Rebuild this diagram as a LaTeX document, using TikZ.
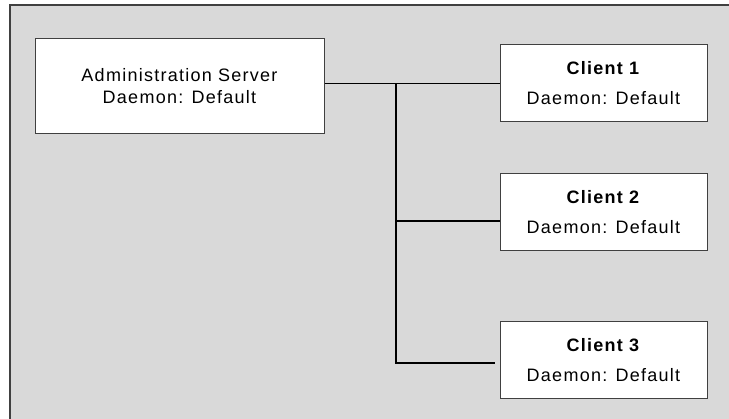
\documentclass[tikz,border=0pt]{standalone}
\usepackage{fontspec}
\setmainfont{Liberation Sans}[LetterSpace=7]
\usetikzlibrary{calc}
\definecolor{panel}{RGB}{217,217,217}
\definecolor{edge}{RGB}{64,64,64}

\begin{document}
\begin{tikzpicture}[x=1pt,y=-1pt,line width=1pt,
    box/.style={draw=edge,fill=white,inner sep=0pt,align=center},
    server/.style={box,minimum width=289pt,minimum height=95pt,font=\fontsize{18}{22}\selectfont},
    client/.style={box,minimum width=207pt,minimum height=77pt,font=\fontsize{18}{30}\selectfont},
    wire/.style={black,line width=1.3pt}]
                \useasboundingbox (0,0) rectangle (729,419);
                \fill[panel] (10,5) rectangle (729,419);
                \draw[edge,line width=1.3pt] (10,419)--(10,5)--(729,5);
                \node[server] (admin) at (179.5,86.5) {Administration Server\\Daemon: Default};
                \node[client] (c1) at (603.5,83.5) {\textbf{Client 1}\\Daemon: Default};
                \node[client] (c2) at (603.5,212) {\textbf{Client 2}\\Daemon: Default};
                \node[client] (c3) at (603.5,360.5) {\textbf{Client 3}\\Daemon: Default};
                \coordinate (trunk) at (396,83.5);
                \coordinate (c3end) at (495,363);
                \draw[wire] (admin.east |- c1.west)--(c1.west);
                \draw[wire] (trunk)--(trunk |- c3end)--(c3end);
                \draw[wire] (trunk |- 0,221)--(c2.west |- 0,221);
            \end{tikzpicture}
\end{document}
